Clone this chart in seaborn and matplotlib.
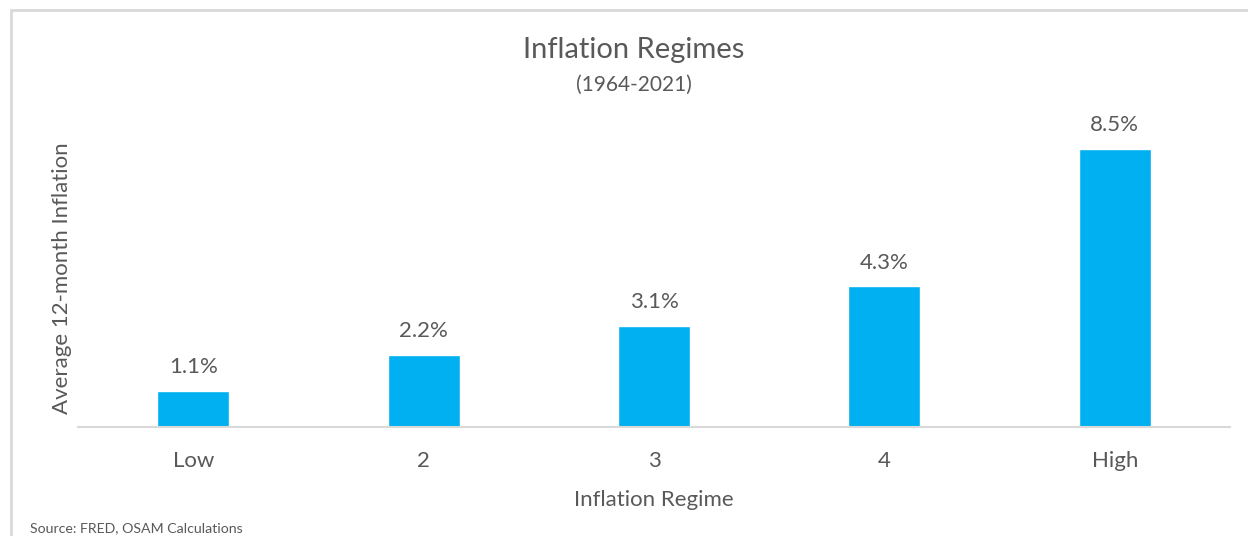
import matplotlib
matplotlib.use("Agg")
import matplotlib.pyplot as plt
import seaborn as sns
import pandas as pd
from matplotlib.patches import Rectangle

categories = ["Low", "2", "3", "4", "High"]
values = [1.1, 2.2, 3.1, 4.3, 8.5]
value_labels = ["1.1%", "2.2%", "3.1%", "4.3%", "8.5%"]

sns.set_theme(style="white")
plt.rcParams['font.family'] = ['Lato', 'DejaVu Sans']
TXT = "#595959"

W, H = 1248, 536
fig = plt.figure(figsize=(W / 100, H / 100), dpi=100)
ax = fig.add_axes([78 / W, (536 - 427) / H, (1230 - 78) / W, (427 - 110) / H])

df = pd.DataFrame({"regime": categories, "value": values})
sns.barplot(data=df, x="regime", y="value", color="#00B0F0", saturation=1,
            width=0.3125, ax=ax)

ax.set_ylim(0, 317 / 32.7)
ax.set_xlim(-0.5, 4.5)
ax.set_yticks([])
for s in ["top", "right", "left"]:
    ax.spines[s].set_visible(False)
ax.spines["bottom"].set_color("#D9D9D9")
ax.spines["bottom"].set_linewidth(1.5)
ax.tick_params(axis="x", length=0, pad=17, labelsize=16, labelcolor=TXT)

for p, lab in zip(ax.patches, value_labels):
    ax.annotate(lab, (p.get_x() + p.get_width() / 2, p.get_height()),
                xytext=(0, 10), textcoords="offset points", ha="center",
                va="bottom", fontsize=16, color=TXT)

ax.set_xlabel("Inflation Regime", fontsize=16, color=TXT, labelpad=14)
ax.set_ylabel("Average 12-month Inflation", fontsize=16, color=TXT)
ax.yaxis.set_label_coords(-0.0055, 0.47)

fig.text(634 / W, 1 - 50 / H, "Inflation Regimes", ha="center", va="center",
         fontsize=21, color=TXT)
fig.text(634 / W, 1 - 85 / H, "(1964-2021)", ha="center", va="center",
         fontsize=15, color=TXT)
fig.text(30 / W, 1 - 528 / H, "Source: FRED, OSAM Calculations", ha="left",
         va="center", fontsize=10.2, color=TXT)

fig.patches.append(Rectangle((11 / W, -0.1), 1.2, 1 - 10 / H + 0.1,
                             transform=fig.transFigure, fill=False,
                             edgecolor="#D9D9D9", linewidth=2))

fig.savefig("out.png", dpi=100)
